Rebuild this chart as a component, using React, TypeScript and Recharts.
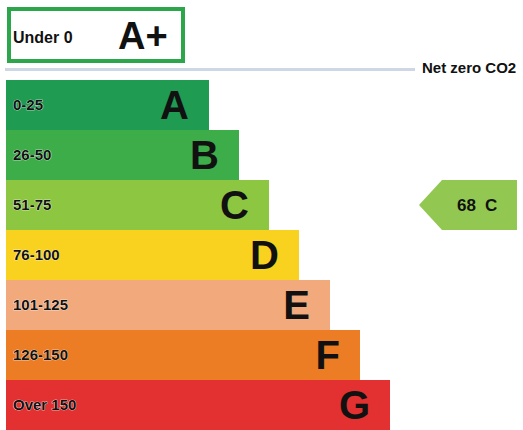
import { BarChart, Bar, XAxis, YAxis, Cell, LabelList, ReferenceDot } from 'recharts'

const bands = ['A', 'B', 'C', 'D', 'E', 'F', 'G']
const ranges = ['0-25', '26-50', '51-75', '76-100', '101-125', '126-150', 'Over 150']
const barLengths = [203, 233, 263, 293, 324, 354, 384]
const topRange = 'Under 0'
const topBand = 'A+'
const netZeroLabel = 'Net zero CO2'
const currentScore = 68
const currentBand = 'C'

const palette = ['#1f9b52', '#3dad4a', '#8dc641', '#f8d21e', '#f2aa7c', '#ec7d25', '#e23130']
const green = '#2ba64b'
const font = '"Liberation Sans", Arial, sans-serif'

const data = bands.map((b, i) => ({ band: b, range: ranges[i], length: barLengths[i] }))

// eslint-disable-next-line @typescript-eslint/no-explicit-any
const LetterLabel = (props: any) => {
  const { x, y, width, height, value } = props
  return (
    <text x={x + width - 20} y={y + height - 11} textAnchor="end" fontSize={40} fontWeight={700} fill="#111" fontFamily={font}>
      {value}
    </text>
  )
}

// eslint-disable-next-line @typescript-eslint/no-explicit-any
const RangeLabel = (props: any) => {
  const { x, y, height, value } = props
  return (
    <text
      x={x + 7}
      y={y + height / 2 + 5}
      fontSize={15}
      fontWeight={700}
      fill="#111"
      stroke="#fff"
      strokeWidth={0.7}
      paintOrder="stroke"
      fontFamily={font}
    >
      {value}
    </text>
  )
}

// eslint-disable-next-line @typescript-eslint/no-explicit-any
const Pointer = (props: any) => {
  const { cx, cy } = props
  const h = 50
  const pts = [
    [cx, cy],
    [cx + 23, cy - h / 2],
    [cx + 98, cy - h / 2],
    [cx + 98, cy + h / 2],
    [cx + 23, cy + h / 2],
  ]
  return (
    <g>
      <polygon points={pts.map((p) => p.join(',')).join(' ')} fill="#92c852" />
      <text x={cx + 38} y={cy + 6} fontSize={17} fontWeight={700} fill="#111" fontFamily={font}>
        {currentScore}
        <tspan dx={9}>{currentBand}</tspan>
      </text>
    </g>
  )
}

export default function App() {
  return (
    <div style={{ position: 'absolute', left: 0, top: 0, width: 523, height: 430, background: '#fff', fontFamily: font }}>
      <div
        style={{
          position: 'absolute',
          left: 7,
          top: 7,
          width: 170,
          height: 48,
          border: `4px solid ${green}`,
          background: '#fff',
        }}
      >
        <span style={{ position: 'absolute', left: 2, top: 18, fontSize: 16, fontWeight: 700, color: '#111' }}>{topRange}</span>
        <span style={{ position: 'absolute', left: 107, top: 3, fontSize: 38, fontWeight: 700, color: '#111', lineHeight: '44px' }}>
          {topBand}
        </span>
      </div>
      <div style={{ position: 'absolute', left: 5, top: 68, width: 410, height: 3, background: '#cdd8e4' }} />
      <span style={{ position: 'absolute', left: 422, top: 59, fontSize: 15, fontWeight: 700, color: '#111' }}>{netZeroLabel}</span>
      <BarChart
        width={523}
        height={430}
        data={data}
        layout="vertical"
        margin={{ top: 80, right: 6, bottom: 0, left: 6 }}
        barCategoryGap={0}
        style={{ position: 'absolute', left: 0, top: 0 }}
      >
        <XAxis type="number" domain={[0, 511]} hide />
        <YAxis type="category" dataKey="band" hide />
        <Bar dataKey="length" isAnimationActive={false}>
          {data.map((d, i) => (
            <Cell key={d.band} fill={palette[i]} />
          ))}
          <LabelList dataKey="range" content={RangeLabel} />
          <LabelList dataKey="band" content={LetterLabel} />
        </Bar>
        <ReferenceDot x={413} y={currentBand} shape={Pointer} />
      </BarChart>
    </div>
  )
}
